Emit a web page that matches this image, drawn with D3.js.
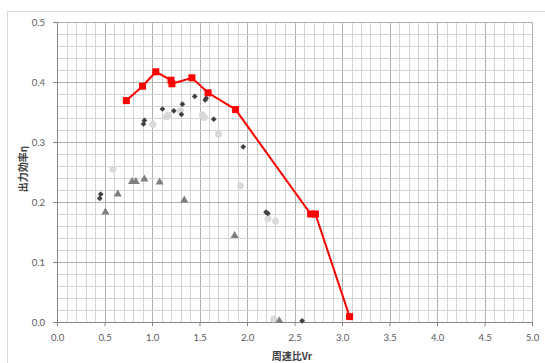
<!DOCTYPE html>
<html>
<head>
<meta charset="utf-8">
<script src="https://cdn.jsdelivr.net/npm/d3@7"></script>
<style>
  html, body { margin: 0; padding: 0; background: #fff; }
  svg { display: block; }
  .tick text { font-family: Lato, "Open Sans", sans-serif; font-size: 9.5px; fill: #595959; }
</style>
</head>
<body>
<script>
// data: [tip speed ratio, efficiency]
var redSeries = [
    [0.73, 0.369], [0.90, 0.393], [1.04, 0.417], [1.20, 0.403], [1.21, 0.397],
    [1.42, 0.407], [1.59, 0.382], [1.88, 0.354], [2.67, 0.180], [2.72, 0.180],
    [3.08, 0.009]
];
var diamondSeries = [
    [0.45, 0.206], [0.46, 0.213], [0.91, 0.330], [0.92, 0.336], [1.11, 0.355],
    [1.23, 0.352], [1.31, 0.346], [1.32, 0.363], [1.45, 0.376], [1.56, 0.370],
    [1.57, 0.373], [1.65, 0.338], [1.96, 0.292], [2.20, 0.183], [2.22, 0.181],
    [2.58, 0.002]
];
var circleSeries = [
    [0.59, 0.255], [1.01, 0.329], [1.15, 0.342], [1.17, 0.345], [1.30, 0.352],
    [1.53, 0.345], [1.55, 0.341], [1.70, 0.313], [1.93, 0.227], [2.22, 0.172],
    [2.30, 0.168], [2.28, 0.005]
];
var triangleSeries = [
    [0.51, 0.183], [0.64, 0.213], [0.79, 0.234], [0.83, 0.234], [0.92, 0.238],
    [1.08, 0.233], [1.34, 0.203], [1.87, 0.144], [2.34, 0.002]
];
var xTicks = [0, 0.5, 1, 1.5, 2, 2.5, 3, 3.5, 4, 4.5, 5];
var yTicks = [0, 0.1, 0.2, 0.3, 0.4, 0.5];
var xLabel = '周速比Vr';
var yLabel = '出力効率η';

// init
var W = 545, H = 363,
    margin = { top: 22, right: 13, bottom: 41, left: 57 },
    width  = W - margin.left - margin.right,
    height = H - margin.top - margin.bottom;

var xScale = d3.scaleLinear().domain([0, 5]).range([0, width]);
var yScale = d3.scaleLinear().domain([0, 0.5]).range([height, 0]);

var root = d3.select('body').append('svg')
    .attr('width', W)
    .attr('height', H);

// chart frame
root.append('rect')
    .attr('x', 7.5).attr('y', 11.5)
    .attr('width', W).attr('height', H)
    .attr('fill', 'none')
    .attr('stroke', '#d9d9d9');

var svg = root.append('g')
    .attr('transform', 'translate(' + margin.left + ',' + margin.top + ')');

// minor grid
var xMinor = d3.range(0, 51).map(function(i) { return i / 10; });
var yMinor = d3.range(0, 26).map(function(i) { return i / 50; });

svg.append('g').selectAll('line').data(xMinor).enter().append('line')
    .attr('x1', function(d) { return Math.round(xScale(d)) + 0.5; })
    .attr('x2', function(d) { return Math.round(xScale(d)) + 0.5; })
    .attr('y1', 0).attr('y2', height)
    .attr('stroke', function(d, i) { return i % 5 === 0 ? '#b0b0b0' : '#d4d4d4'; });

svg.append('g').selectAll('line').data(yMinor).enter().append('line')
    .attr('y1', function(d) { return Math.round(yScale(d)) + 0.5; })
    .attr('y2', function(d) { return Math.round(yScale(d)) + 0.5; })
    .attr('x1', 0).attr('x2', width)
    .attr('stroke', function(d, i) { return i % 5 === 0 ? '#b0b0b0' : '#d4d4d4'; });

// axes
var xAxis = svg.append('g')
    .attr('transform', 'translate(0,' + height + ')')
    .call(d3.axisBottom(xScale).tickValues(xTicks).tickFormat(d3.format('.1f')).tickSize(4).tickPadding(8));
var yAxis = svg.append('g')
    .call(d3.axisLeft(yScale).tickValues(yTicks).tickFormat(d3.format('.1f')).tickSize(4).tickPadding(8));

[xAxis, yAxis].forEach(function(a) {
    a.select('.domain').attr('stroke', '#868686');
    a.selectAll('.tick line').attr('stroke', '#868686');
});

// axis titles
root.append('text')
    .attr('x', 292).attr('y', 360)
    .attr('text-anchor', 'middle')
    .attr('font-family', '"Noto Sans CJK JP", sans-serif')
    .attr('font-weight', 'bold')
    .attr('font-size', 10)
    .attr('fill', '#404040')
    .text(xLabel);

root.append('text')
    .attr('transform', 'translate(27,169) rotate(-90)')
    .attr('text-anchor', 'middle')
    .attr('font-family', '"Noto Sans CJK JP", sans-serif')
    .attr('font-weight', 'bold')
    .attr('font-size', 10)
    .attr('fill', '#404040')
    .text(yLabel);

// scatter series
svg.append('g').selectAll('circle').data(circleSeries).enter().append('circle')
    .attr('cx', function(d) { return xScale(d[0]); })
    .attr('cy', function(d) { return yScale(d[1]); })
    .attr('r', 3.5)
    .attr('fill', '#d9d9d9');

svg.append('g').selectAll('path').data(triangleSeries).enter().append('path')
    .attr('d', d3.symbol().type(d3.symbolTriangle).size(28))
    .attr('transform', function(d) { return 'translate(' + xScale(d[0]) + ',' + yScale(d[1]) + ')'; })
    .attr('fill', '#7f7f7f');

svg.append('g').selectAll('path').data(diamondSeries).enter().append('path')
    .attr('d', d3.symbol().type(d3.symbolSquare).size(16))
    .attr('transform', function(d) { return 'translate(' + xScale(d[0]) + ',' + yScale(d[1]) + ') rotate(45)'; })
    .attr('fill', '#404040');

// red line series
var line = d3.line()
    .x(function(d) { return xScale(d[0]); })
    .y(function(d) { return yScale(d[1]); });

svg.append('path')
    .datum(redSeries)
    .attr('d', line)
    .attr('fill', 'none')
    .attr('stroke', '#ff0000')
    .attr('stroke-width', 2);

svg.append('g').selectAll('rect').data(redSeries).enter().append('rect')
    .attr('x', function(d) { return xScale(d[0]) - 3.5; })
    .attr('y', function(d) { return yScale(d[1]) - 3.5; })
    .attr('width', 7).attr('height', 7)
    .attr('fill', '#ff0000');
</script>
</body>
</html>
